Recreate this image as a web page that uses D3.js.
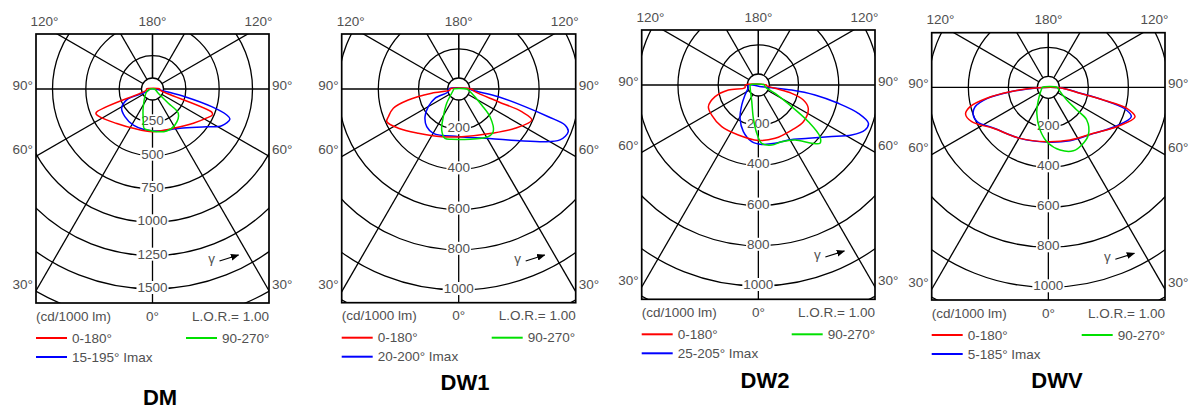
<!DOCTYPE html>
<html>
<head>
<meta charset="utf-8">
<script src="https://cdn.jsdelivr.net/npm/d3@7"></script>
<style>
  body { margin: 0; background: #fff; }
  text { font-family: "Liberation Sans", Arial, sans-serif; }
</style>
</head>
<body>
<svg width="1192" height="408"></svg>
<script>
// ---- data (gamma in degrees from nadir, negative = C180 side ; intensity in cd/1000 lm)
var panelNames = ["DM", "DW1", "DW2", "DWV"];
var imaxLabels = ["15-195\u00b0 Imax", "20-200\u00b0 Imax", "25-205\u00b0 Imax", "5-185\u00b0 Imax"];
var ringsDM = [250, 500, 750, 1000, 1250, 1500, 1750];
var ringsDW = [200, 400, 600, 800, 1000, 1200];
var gridAngles = [0, 30, 60, 120, 150, 180, -30, -60, -120, -150, -180];

var dmRed = [[-90,45],[-80,46],[-67,461],[-62,447],[-46,372],[-26,328],[0,320],[28,334],[50,400],[62,462],[66.5,489],[68.5,480],[82,57],[90,55]];
var dmGreen = [[-90,15],[-65,48],[-27.5,150],[-15.7,255],[-12,302],[-6,309],[5.6,322],[18.7,332],[32,318],[46.7,266],[48,160],[53.5,54],[90,15]];
var dmBlue = [[-90,20],[-65,48],[-67,210],[-58,273],[-45,293],[-28,306],[1,315],[35,360],[55,495],[62,588],[68.8,623],[70.7,590],[73.4,463],[76.7,250],[79.2,108],[86,32],[90,20]];

var dw1Red = [[-90,43],[-83,44],[-81,136],[-77.7,257],[-73.6,339],[-68.5,376],[-65.6,393],[-57,358],[-42.4,298],[-19.6,252],[3.6,238],[36.7,275],[55.1,342],[67,395],[70.2,333],[72.2,207],[80.6,82],[89,65]];
var dw1Green = [[-90,25],[-79.5,27],[-40,93],[-29,158],[-22.5,221],[-15.5,255],[-7.9,253],[31.8,279],[39,273],[48.5,208],[55.2,139],[71.7,68],[84,48],[90,40]];
var dw1Blue = [[-90,50],[-75.4,53],[-68.6,127],[-59.8,175],[-50.6,217],[-40.3,246],[-29.8,254],[0,237],[28.1,278],[44.2,354],[57.6,489],[63.3,564],[68.7,585],[71.3,558],[72.8,467],[75.1,341],[79,201],[82.2,98],[85.6,65],[90,60]];

var dw2Red = [[-90,65],[-78.5,68],[-80.5,151],[-74.9,223],[-66.5,271],[-57.2,276],[-41.3,276],[-21.8,268],[0,276],[17.4,278],[36.6,279],[50.8,289],[65,274],[71.6,236],[76,171],[78.8,85],[85,42],[90,40]];
var dw2Green = [[-90,40],[-78,42],[-21.6,89],[-8.5,168],[-1.9,240],[3.3,291],[12.6,306],[22.4,305],[33.7,329],[42.5,393],[46.6,422],[50,400],[53.7,309],[57,198],[63.6,93],[75.8,34],[90,30]];
var dw2Blue = [[-90,50],[-73.8,53],[-53,83],[-39.7,129],[-28.8,189],[-17.8,244],[-6.6,284],[3.3,296],[16,302],[28.6,312],[43.2,364],[53.6,433],[61.8,527],[67.1,576],[70.8,580],[74.2,517],[77.1,408],[80,286],[81.5,168],[78.6,68],[63,19]];

var dwvRed = [[-88,50],[-83.4,193],[-79.9,313],[-76.1,403],[-72.1,435],[-65.8,420],[-53.3,343],[-29,292],[-1.7,272],[22.4,285],[44.4,322],[60.1,395],[71.1,458],[75,406],[77,282],[79.3,161],[88,58]];
var dwvGreen = [[-90,30],[-81,33],[-38.2,81],[-24,142],[-11,217],[0,280],[10.6,319],[21.5,341],[30.1,333],[40,311],[49.6,252],[51.4,182],[55.4,112],[80,51],[90,45]];
var dwvBlue = [[-88,50],[-83,195],[-79.5,312],[-75,380],[-70,400],[-64,395],[-53,340],[-29,292],[-2,274],[22,288],[44,322],[60,390],[70.5,440],[74.5,392],[77,280],[79.5,163],[88,58]];

// ---- layout of the four diagrams
var layout = [
  {left: 36,    top: 34,   w: 233,   h: 269,   oy: 55,   rMax: 200, vMax: 1500, tx: 160,  ty: 397},
  {left: 341.7, top: 34,   w: 234,   h: 268.7, oy: 55,   rMax: 201, vMax: 1000, tx: 465,  ty: 382},
  {left: 641.7, top: 30,   w: 233.3, h: 269.3, oy: 55,   rMax: 201, vMax: 1000, tx: 765,  ty: 380},
  {left: 931.7, top: 32.7, w: 233.3, h: 267.3, oy: 54.6, rMax: 200, vMax: 1000, tx: 1057, ty: 380}
];

var panels = [
  {rings: ringsDM, red: dmRed,  green: dmGreen,  blue: dmBlue},
  {rings: ringsDW, red: dw1Red, green: dw1Green, blue: dw1Blue},
  {rings: ringsDW, red: dw2Red, green: dw2Green, blue: dw2Blue},
  {rings: ringsDW, red: dwvRed, green: dwvGreen, blue: dwvBlue}
];

var txtCol = "#505050";
var RAD = Math.PI / 180;
var svg = d3.select("svg");
var defs = svg.append("defs");

defs.append("marker").attr("id", "arr")
  .attr("viewBox", "0 0 10 10").attr("refX", 9).attr("refY", 5)
  .attr("markerWidth", 7).attr("markerHeight", 7).attr("orient", "auto")
  .append("path").attr("d", "M0,1L10,5L0,9z").attr("fill", "#000");

function label(g, x, y, s, anchor) {
  return g.append("text").attr("x", x).attr("y", y)
    .attr("text-anchor", anchor || "middle")
    .attr("dominant-baseline", "central")
    .attr("font-size", 13.5).attr("fill", txtCol).text(s);
}

panels.forEach(function(p, i) {
  var L = layout[i];
  var cx = L.left + L.w / 2, cy = L.top + L.oy;
  var right = L.left + L.w, bottom = L.top + L.h;
  var r = d3.scaleLinear().domain([0, L.vMax]).range([0, L.rMax]);
  var g = svg.append("g");

  defs.append("clipPath").attr("id", "clip" + i)
    .append("rect").attr("x", L.left).attr("y", L.top).attr("width", L.w).attr("height", L.h);

  var grid = g.append("g").attr("clip-path", "url(#clip" + i + ")")
    .attr("stroke", "#000").attr("stroke-width", 1.3).attr("fill", "none");

  grid.selectAll("circle.ring").data(p.rings).enter().append("circle")
    .attr("class", "ring").attr("cx", cx).attr("cy", cy)
    .attr("r", function(d) { return r(d); });

  grid.selectAll("line.rad").data(gridAngles).enter().append("line")
    .attr("class", "rad")
    .attr("x1", function(a) { return cx + 11 * Math.sin(a * RAD); })
    .attr("y1", function(a) { return cy + 11 * Math.cos(a * RAD); })
    .attr("x2", function(a) { return cx + 400 * Math.sin(a * RAD); })
    .attr("y2", function(a) { return cy + 400 * Math.cos(a * RAD); });

  grid.append("line").attr("x1", L.left).attr("x2", right).attr("y1", cy).attr("y2", cy);
  grid.append("circle").attr("cx", cx).attr("cy", cy).attr("r", 11).attr("fill", "#fff");

  // ring value labels on the nadir axis
  p.rings.filter(function(v) { return cy + r(v) < bottom - 6; }).forEach(function(v) {
    var t = label(g, cx, cy + r(v) - 1.5, v);
    var b = t.node().getBBox();
    g.insert("rect", function() { return t.node(); })
      .attr("x", b.x - 1).attr("y", b.y + 1).attr("width", b.width + 2).attr("height", b.height - 2)
      .attr("fill", "#fff");
  });

  // light distribution curves
  var line = d3.line()
    .x(function(d) { return cx + r(d[1]) * Math.sin(d[0] * RAD); })
    .y(function(d) { return cy + r(d[1]) * Math.cos(d[0] * RAD); })
    .curve(d3.curveCatmullRomClosed.alpha(0.5));
  [[p.blue, "#0000ff"], [p.red, "#ff0000"], [p.green, "#00e000"]].forEach(function(c) {
    g.append("path").attr("d", line(c[0])).attr("fill", "none")
      .attr("stroke", c[1]).attr("stroke-width", 1.5);
  });

  g.append("rect").attr("x", L.left).attr("y", L.top).attr("width", L.w).attr("height", L.h)
    .attr("fill", "none").attr("stroke", "#000").attr("stroke-width", 1.7);

  // angle labels
  label(g, cx - 108, L.top - 13, "120\u00b0");
  label(g, cx, L.top - 13, "180\u00b0");
  label(g, cx + 106, L.top - 13, "120\u00b0");
  [[-4, "90\u00b0"], [60, "60\u00b0"], [195, "30\u00b0"]].forEach(function(a) {
    label(g, L.left - 3, cy + a[0], a[1], "end");
    label(g, right + 3, cy + a[0], a[1], "start");
  });

  // gamma arrow
  label(g, cx + 59, cy + 169, "\u03b3");
  g.append("line").attr("x1", cx + 67).attr("y1", cy + 172).attr("x2", cx + 86).attr("y2", cy + 166)
    .attr("stroke", "#000").attr("stroke-width", 1.2).attr("marker-end", "url(#arr)");

  // footer
  label(g, L.left, bottom + 13, "(cd/1000 lm)", "start");
  label(g, cx, bottom + 13, "0\u00b0");
  label(g, right, bottom + 13, "L.O.R.= 1.00", "end");

  var leg = [[L.left, bottom + 35, "#ff0000", "0-180\u00b0"],
             [L.left + 150, bottom + 35, "#00e000", "90-270\u00b0"],
             [L.left, bottom + 54, "#0000ff", imaxLabels[i]]];
  leg.forEach(function(d) {
    g.append("line").attr("x1", d[0]).attr("x2", d[0] + 31).attr("y1", d[1]).attr("y2", d[1])
      .attr("stroke", d[2]).attr("stroke-width", 2);
    label(g, d[0] + 36, d[1], d[3], "start");
  });

  g.append("text").attr("x", L.tx).attr("y", L.ty)
    .attr("text-anchor", "middle").attr("dominant-baseline", "central")
    .attr("font-size", 22).attr("font-weight", "bold").attr("fill", "#000")
    .text(panelNames[i]);
});
</script>
</body>
</html>
